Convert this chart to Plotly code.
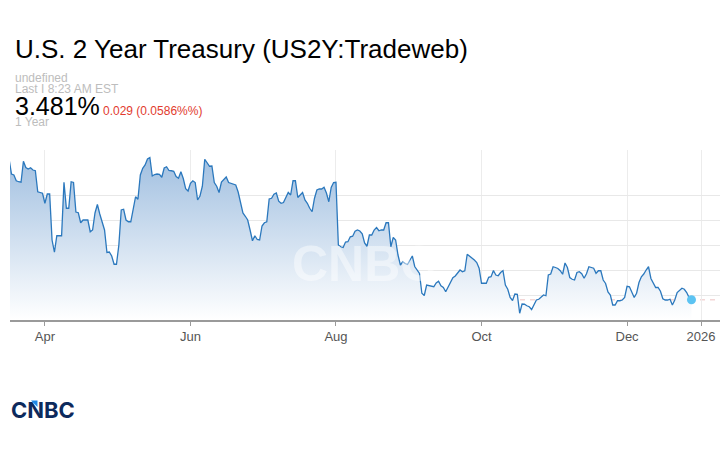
import pandas as pd
import plotly.graph_objects as go

# daily closes, 2025-03-17 .. 2025-12-28
start_date = "2025-03-17"
end_date = "2025-12-28"
yields = [
    4.043, 3.984, 3.980, 3.957, 3.953, 3.951, 4.035, 4.010, 4.004, 4.009,
    4.000, 3.997, 3.913, 3.911, 3.907, 3.867, 3.904, 3.904, 3.720, 3.671,
    3.737, 3.737, 3.737, 3.951, 3.847, 3.847, 3.953, 3.950, 3.832, 3.829,
    3.789, 3.800, 3.800, 3.800, 3.753, 3.760, 3.828, 3.862, 3.824, 3.790,
    3.760, 3.670, 3.672, 3.656, 3.623, 3.623, 3.700, 3.840, 3.843, 3.800,
    3.793, 3.793, 3.850, 3.893, 3.883, 3.980, 4.007, 4.020, 4.044, 4.050,
    3.976, 3.982, 3.984, 3.983, 3.971, 4.008, 4.013, 3.998, 3.997, 3.995,
    3.974, 3.967, 3.993, 3.966, 3.925, 3.916, 3.947, 3.957, 3.950, 3.880,
    3.896, 3.935, 4.043, 4.028, 4.015, 4.016, 3.950, 3.935, 3.910, 3.952,
    3.963, 3.972, 3.950, 3.946, 3.944, 3.940, 3.912, 3.872, 3.828, 3.815,
    3.800, 3.760, 3.717, 3.737, 3.722, 3.720, 3.776, 3.789, 3.793, 3.884,
    3.887, 3.903, 3.908, 3.875, 3.867, 3.870, 3.888, 3.910, 3.900, 3.957,
    3.957, 3.890, 3.900, 3.910, 3.880, 3.867, 3.847, 3.833, 3.887, 3.920,
    3.924, 3.924, 3.931, 3.908, 3.873, 3.930, 3.950, 3.951, 3.700, 3.693,
    3.690, 3.712, 3.713, 3.733, 3.735, 3.755, 3.760, 3.756, 3.745, 3.708,
    3.695, 3.740, 3.740, 3.760, 3.770, 3.757, 3.760, 3.760, 3.789, 3.789,
    3.693, 3.730, 3.720, 3.660, 3.620, 3.633, 3.626, 3.622, 3.640, 3.656,
    3.614, 3.600, 3.586, 3.507, 3.498, 3.540, 3.537, 3.533, 3.533, 3.548,
    3.555, 3.537, 3.530, 3.513, 3.532, 3.556, 3.569, 3.576, 3.590, 3.600,
    3.593, 3.597, 3.663, 3.656, 3.647, 3.640, 3.630, 3.607, 3.547, 3.547,
    3.547, 3.571, 3.573, 3.598, 3.580, 3.577, 3.590, 3.597, 3.540, 3.523,
    3.490, 3.478, 3.504, 3.503, 3.427, 3.464, 3.463, 3.457, 3.453, 3.442,
    3.460, 3.480, 3.483, 3.490, 3.500, 3.497, 3.580, 3.584, 3.613, 3.610,
    3.606, 3.597, 3.583, 3.628, 3.610, 3.570, 3.563, 3.560, 3.590, 3.593,
    3.585, 3.567, 3.585, 3.613, 3.610, 3.607, 3.587, 3.597, 3.597, 3.560,
    3.546, 3.512, 3.500, 3.460, 3.460, 3.477, 3.477, 3.480, 3.490, 3.535,
    3.533, 3.510, 3.490, 3.507, 3.550, 3.573, 3.584, 3.600, 3.613, 3.566,
    3.548, 3.530, 3.530, 3.515, 3.485, 3.480, 3.480, 3.483, 3.460, 3.480,
    3.510, 3.520, 3.527, 3.523, 3.510, 3.490, 3.481,
]
dates = pd.date_range(start_date, end_date, freq="D")

tick_dates = ["2025-04-01", "2025-06-01", "2025-08-01", "2025-10-01", "2025-12-01", "2026-01-01"]
tick_labels = ["Apr", "Jun", "Aug", "Oct", "Dec", "2026"]
grid_levels = [3.5, 3.6, 3.7, 3.8, 3.9]

last_value = yields[-1]
change_text = "0.029 (0.0586%%)"

FONT = "Liberation Sans, Arial, Helvetica, sans-serif"
GREY = "#bdbdbd"

fig = go.Figure()
fig.add_trace(
    go.Scatter(
        x=dates,
        y=yields,
        mode="lines",
        line=dict(color="#2b78bd", width=1.3),
        fill="tozeroy",
        fillgradient=dict(
            type="vertical",
            start=3.4,
            stop=4.06,
            colorscale=[[0, "rgb(255,255,255)"], [1, "rgb(160,191,224)"]],
        ),
        hoverinfo="skip",
        showlegend=False,
    )
)
fig.add_trace(
    go.Scatter(
        x=[dates[-1]],
        y=[last_value],
        mode="markers",
        marker=dict(color="#5cc3f2", size=9),
        hoverinfo="skip",
        showlegend=False,
    )
)

fig.add_shape(
    type="line", xref="paper", yref="y", x0=0, x1=1, y0=last_value, y1=last_value,
    line=dict(color="#f3d6d6", width=1.5, dash="5px,5px"), layer="below",
)


# header text (paper coords: plot area spans y 150..320 px, x 10..720 px)
def px_x(x):
    return (x - 10) / 710


def px_y(y):
    return (320 - y) / 170


header = [
    ("U.S. 2 Year Treasury (US2Y:Tradeweb)", 14, 49, 26, "#000000"),
    ("undefined", 14, 77.5, 12, GREY),
    ("Last I 8:23 AM EST", 14, 89, 12, GREY),
    (f"{last_value:.3f}%", 14, 105.5, 25, "#000000"),
    ("1 Year", 14, 122.5, 12, GREY),
]
for text, x, y, size, color in header:
    fig.add_annotation(
        text=text, x=px_x(x), y=px_y(y), xref="paper", yref="paper",
        xanchor="left", yanchor="middle", showarrow=False, borderpad=0,
        font=dict(family=FONT, size=size, color=color),
    )
fig.add_annotation(
    text=change_text, x=px_x(102), y=px_y(111), xref="paper", yref="paper",
    xanchor="left", yanchor="middle", showarrow=False, borderpad=0,
    font=dict(family=FONT, size=12, color="#e23b2e"),
)

# watermark and logo
fig.add_annotation(
    text="<b>CNBC</b>", x=px_x(364), y=px_y(264), xref="paper", yref="paper",
    xanchor="center", yanchor="middle", showarrow=False,
    font=dict(family=FONT, size=50, color="rgba(255,255,255,0.45)"),
)
fig.add_annotation(
    text="<b>CNBC</b>", x=px_x(9), y=px_y(410), xref="paper", yref="paper",
    xanchor="left", yanchor="middle", showarrow=False,
    font=dict(family="Inter, Liberation Sans, sans-serif", size=22, color="#0d2a5c"),
)
fig.add_shape(
    type="path", xref="paper", yref="paper",
    path=f"M {px_x(31)} {px_y(400.5)} L {px_x(37.5)} {px_y(400.5)} L {px_x(37.5)} {px_y(407)} Z",
    fillcolor="#1e88e5", line=dict(width=0),
)

fig.update_xaxes(
    range=["2025-03-17 09:00", "2026-01-08 23:00"],
    tickvals=tick_dates,
    ticktext=tick_labels,
    showgrid=True,
    gridcolor="#ececec",
    gridwidth=1,
    showline=True,
    linecolor="#9a9a9a",
    linewidth=1.5,
    ticks="outside",
    ticklen=4,
    tickcolor="#9a9a9a",
    tickfont=dict(family=FONT, size=13, color="#555555"),
    zeroline=False,
    fixedrange=True,
)
fig.update_yaxes(
    range=[3.4, 4.08],
    tickvals=grid_levels,
    showticklabels=False,
    showgrid=True,
    gridcolor="#e8e8e8",
    gridwidth=1,
    zeroline=False,
    showline=False,
    fixedrange=True,
)
fig.update_layout(
    width=720,
    height=450,
    margin=dict(l=10, r=0, t=150, b=130),
    paper_bgcolor="white",
    plot_bgcolor="white",
    showlegend=False,
    hovermode=False,
    font=dict(family=FONT),
)

# drop the browser's default 8px body margin so the figure sits at the page origin
fig.write_html(
    "out.html",
    config={"displayModeBar": False},
    post_script="document.body.style.margin = '0';",
)
